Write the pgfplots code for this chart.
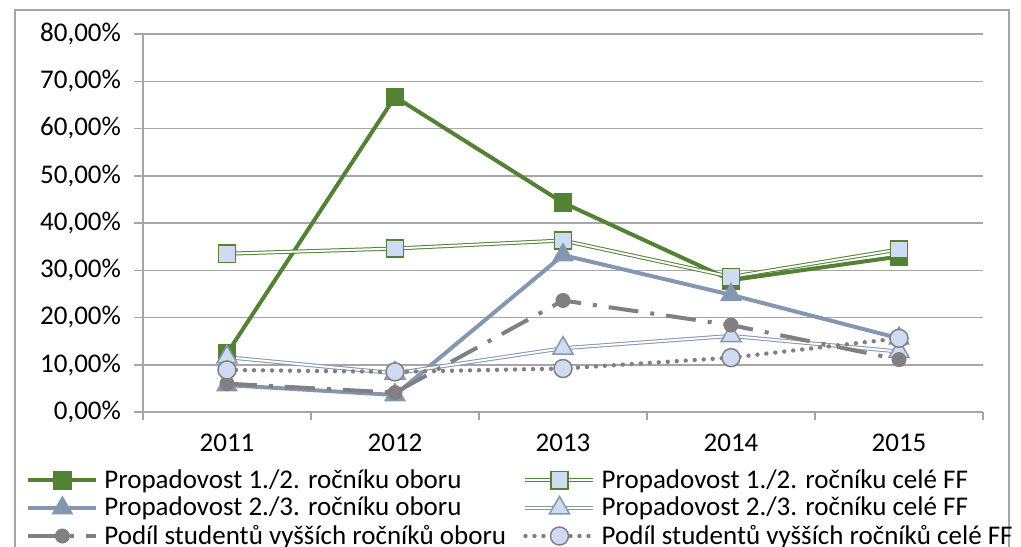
\documentclass[border=0pt]{standalone}
\usepackage{pgfplots}
\pgfplotsset{compat=1.18}
\usepackage{fontspec}
\setmainfont{Carlito}
\definecolor{cgreen}{HTML}{548235}
\definecolor{cblue}{HTML}{8497B0}
\definecolor{cgray}{HTML}{808080}
\definecolor{cfill}{HTML}{CFDBF0}
\definecolor{cgrid}{HTML}{A6A6A6}
\begin{document}
\begin{tikzpicture}
\path[use as bounding box] (-71.5pt,-67pt) rectangle (439pt,206pt);
\draw[cgrid, line width=0.75pt] (-64pt,-90pt) rectangle (433pt,201pt);
\begin{axis}[
  at={(0pt,0pt)}, anchor=south west,
  scale only axis, width=420pt, height=189pt,
  xmin=0.5, xmax=5.5, ymin=0, ymax=80,
  clip=false,
  axis x line*=bottom, axis y line*=left,
  axis line style={cgrid, line width=0.75pt},
  xtick={1,2,3,4,5}, xticklabels={2011,2012,2013,2014,2015},
  major x tick style={draw=none},
  minor xtick={0.5,1.5,2.5,3.5,4.5,5.5},
  ytick={0,10,20,30,40,50,60,70,80},
  yticklabels={{0,00\%},{10,00\%},{20,00\%},{30,00\%},{40,00\%},{50,00\%},{60,00\%},{70,00\%},{80,00\%}},
  tick align=outside, major tick length=4.5pt, minor tick length=4pt,
  tick style={cgrid, line width=0.75pt},
  ymajorgrids, grid style={cgrid, line width=0.75pt},
  tick label style={font=\fontsize{13.5}{15}\selectfont},
  yticklabel style={xshift=-3pt},
  xticklabel style={yshift=-3pt},
  legend columns=2,
  legend cell align=left,
  legend style={at={(-0.1393,-0.143)}, anchor=north west, draw=none, fill=none,
    font=\fontsize{13.5}{15}\selectfont, inner sep=0pt,
    nodes={inner ysep=1.5pt, inner xsep=3pt},
    /tikz/every even column/.append style={column sep=5.5pt}},
  legend image code/.code={\draw[mark repeat=2,mark phase=2] plot coordinates {(0pt,0pt) (17pt,0pt) (34pt,0pt)};},
]
\addplot[cgreen, line width=2pt, mark=square*, mark size=4.3pt,
  mark options={solid, fill=cgreen, draw=cgreen, line width=0.75pt}]
  coordinates {(1,12.4) (2,66.7) (3,44.3) (4,27.9) (5,32.9)};
\addlegendentry{Propadovost 1./2. ročníku oboru}
\addplot[cgreen, line width=0.5pt, double=white, double distance=1pt, mark=square*, mark size=4.3pt,
  mark options={solid, fill=cfill, draw=cgreen, line width=0.75pt}]
  coordinates {(1,33.5) (2,34.6) (3,36.3) (4,28.6) (5,34.4)};
\addlegendentry{Propadovost 1./2. ročníku celé FF}
\addplot[cblue, line width=2pt, mark=triangle*, mark size=5.8pt,
  mark options={solid, fill=cblue, draw=cblue, line width=0.5pt}]
  coordinates {(1,5.7) (2,3.6) (3,33.2) (4,24.8) (5,15.6)};
\addlegendentry{Propadovost 2./3. ročníku oboru}
\addplot[cblue, line width=0.5pt, double=white, double distance=1pt, mark=triangle*, mark size=5.8pt,
  mark options={solid, fill=cfill, draw=cblue, line width=0.75pt}]
  coordinates {(1,11.6) (2,8.2) (3,13.5) (4,16.1) (5,12.8)};
\addlegendentry{Propadovost 2./3. ročníku celé FF}
\addplot[cgray, line width=2pt, dash pattern=on 15pt off 6pt on 2pt off 6pt, mark=*, mark size=3.5pt,
  mark options={solid, fill=cgray, draw=cgray, line width=0.5pt}]
  coordinates {(1,6.0) (2,4.1) (3,23.6) (4,18.4) (5,11.1)};
\addlegendentry{Podíl studentů vyšších ročníků oboru}
\addplot[cgray, line width=2.2pt, line cap=round, dash pattern=on 0pt off 4.5pt, mark=*, mark size=4.5pt,
  mark options={solid, fill=cfill, draw=cgray, line width=0.75pt}]
  coordinates {(1,8.9) (2,8.5) (3,9.2) (4,11.5) (5,15.6)};
\addlegendentry{Podíl studentů vyšších ročníků celé FF}
\end{axis}
\end{tikzpicture}
\end{document}
